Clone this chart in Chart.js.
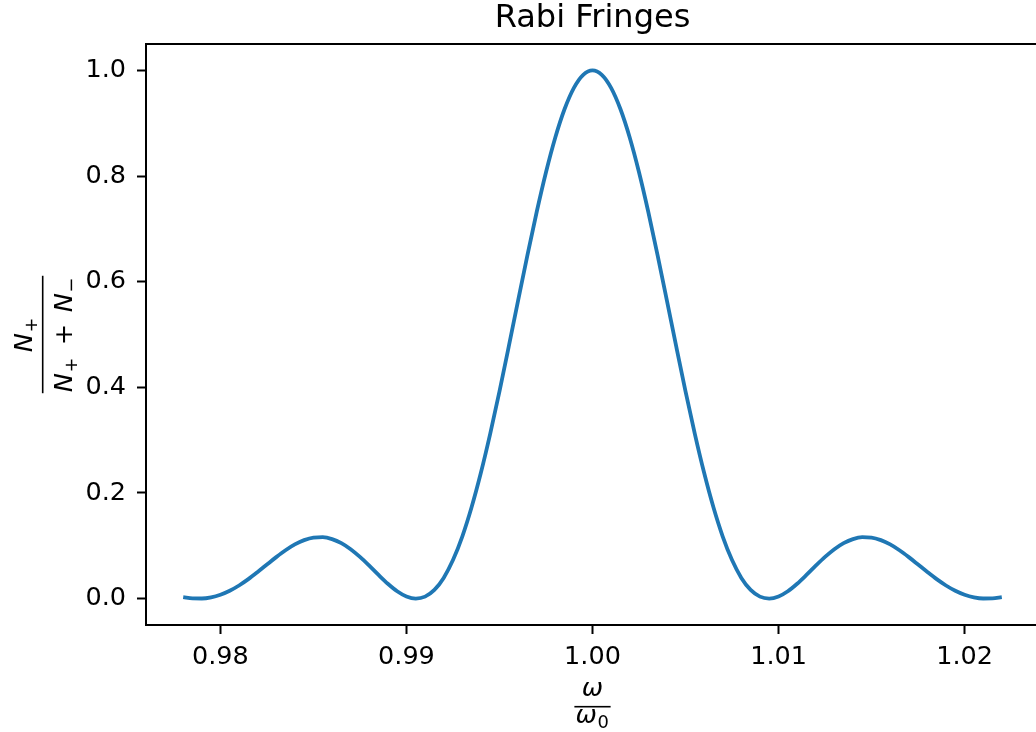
<!DOCTYPE html>
<html>
<head>
<meta charset="utf-8">
<title>Rabi Fringes</title>
<script src="https://cdn.jsdelivr.net/npm/chart.js@4.4.1/dist/chart.umd.min.js"></script>
<style>
  html, body { margin: 0; padding: 0; overflow: hidden; background: #ffffff; }
  #wrap { position: relative; width: 1040px; height: 732px; }
</style>
</head>
<body>
<div id="wrap"><canvas id="chart" width="1040" height="732"></canvas></div>
<script>
// Drive frequency relative to resonance (omega / omega_0)
const omegaRatio = [
  0.9780, 0.9785, 0.9790, 0.9795, 0.9800, 0.9805, 0.9810, 0.9815, 0.9820, 0.9825,
  0.9830, 0.9835, 0.9840, 0.9845, 0.9850, 0.9855, 0.9860, 0.9865, 0.9870, 0.9875,
  0.9880, 0.9885, 0.9890, 0.9895, 0.9900, 0.9905, 0.9910, 0.9915, 0.9920, 0.9925,
  0.9930, 0.9935, 0.9940, 0.9945, 0.9950, 0.9955, 0.9960, 0.9965, 0.9970, 0.9975,
  0.9980, 0.9985, 0.9990, 0.9995, 1.0000, 1.0005, 1.0010, 1.0015, 1.0020, 1.0025,
  1.0030, 1.0035, 1.0040, 1.0045, 1.0050, 1.0055, 1.0060, 1.0065, 1.0070, 1.0075,
  1.0080, 1.0085, 1.0090, 1.0095, 1.0100, 1.0105, 1.0110, 1.0115, 1.0120, 1.0125,
  1.0130, 1.0135, 1.0140, 1.0145, 1.0150, 1.0155, 1.0160, 1.0165, 1.0170, 1.0175,
  1.0180, 1.0185, 1.0190, 1.0195, 1.0200, 1.0205, 1.0210, 1.0215, 1.0220
];

// Excited-state fraction N+ / (N+ + N-)
const excitedFraction = [
  0.0029, 0.0005, 0.0002, 0.0024, 0.0073, 0.0148, 0.0248, 0.0368, 0.0503, 0.0645,
  0.0785, 0.0915, 0.1025, 0.1107, 0.1155, 0.1162, 0.1127, 0.1050, 0.0935, 0.0789,
  0.0623, 0.0448, 0.0281, 0.0139, 0.0040, 0.0000, 0.0037, 0.0164, 0.0392, 0.0729,
  0.1175, 0.1729, 0.2381, 0.3119, 0.3924, 0.4773, 0.5641, 0.6499, 0.7319, 0.8072,
  0.8730, 0.9269, 0.9670, 0.9917, 1.0000, 0.9917, 0.9670, 0.9269, 0.8730, 0.8072,
  0.7319, 0.6499, 0.5641, 0.4773, 0.3924, 0.3119, 0.2381, 0.1729, 0.1175, 0.0729,
  0.0392, 0.0164, 0.0037, 0.0000, 0.0040, 0.0139, 0.0281, 0.0448, 0.0623, 0.0789,
  0.0935, 0.1050, 0.1127, 0.1162, 0.1155, 0.1107, 0.1025, 0.0915, 0.0785, 0.0645,
  0.0503, 0.0368, 0.0248, 0.0148, 0.0073, 0.0024, 0.0002, 0.0005, 0.0029
];

const xTickValues = [0.98, 0.99, 1.00, 1.01, 1.02];
const yTickValues = [0.0, 0.2, 0.4, 0.6, 0.8, 1.0];
const titleText = 'Rabi Fringes';

const FONT = '"DejaVu Sans", "Liberation Sans", sans-serif';
const TICK_SIZE = 25.5;
const SUB_SIZE = 17.9;
const OP_PAD = 0.45 * TICK_SIZE;
const SUB_PAD = 1.5;

// Math-style label runs: [text, kind]
const xLabelNum = [['ω', 'it']];
const xLabelDen = [['ω', 'it'], ['0', 'sub']];
const yLabelNum = [['N', 'it'], ['+', 'sub']];
const yLabelDen = [['N', 'it'], ['+', 'sub'], ['+', 'op'], ['N', 'it'], ['−', 'sub']];

function runFont(kind) {
  const size = kind === 'sub' ? SUB_SIZE : TICK_SIZE;
  const style = kind === 'it' ? 'italic ' : '';
  return style + size + 'px ' + FONT;
}

function runAdvance(ctx, t, k) {
  ctx.font = runFont(k);
  let w = ctx.measureText(t).width;
  if (k === 'op') w += 2 * OP_PAD;
  if (k === 'sub') w += SUB_PAD;
  return w;
}

function runsWidth(ctx, runs) {
  let w = 0;
  for (const [t, k] of runs) w += runAdvance(ctx, t, k);
  return w;
}

function drawRuns(ctx, runs, x, baseline) {
  for (const [t, k] of runs) {
    const adv = runAdvance(ctx, t, k);
    ctx.font = runFont(k);
    const dx = k === 'op' ? OP_PAD : (k === 'sub' ? SUB_PAD / 2 : 0);
    ctx.fillText(t, x + dx, k === 'sub' ? baseline + 5 : baseline);
    x += adv;
  }
}

// Stacked fraction centred on (cx, barY)
function drawFraction(ctx, cx, barY, num, den, numBase, denBase) {
  const wn = runsWidth(ctx, num);
  const wd = runsWidth(ctx, den);
  const bw = Math.max(wn, wd) + 2;
  ctx.textAlign = 'left';
  ctx.textBaseline = 'alphabetic';
  drawRuns(ctx, num, cx - wn / 2, barY + numBase);
  drawRuns(ctx, den, cx - wd / 2, barY + denBase);
  ctx.fillRect(cx - bw / 2, barY - 0.8, bw, 1.6);
}

const decorations = {
  id: 'decorations',
  afterDraw(chart) {
    const { ctx, chartArea: a } = chart;
    ctx.save();
    // top frame line
    ctx.strokeStyle = '#000000';
    ctx.lineWidth = 2;
    ctx.beginPath();
    ctx.moveTo(a.left - 1, a.top);
    ctx.lineTo(a.right, a.top);
    ctx.stroke();

    ctx.fillStyle = '#000000';
    // title
    ctx.font = '32px ' + FONT;
    ctx.textAlign = 'center';
    ctx.textBaseline = 'alphabetic';
    ctx.fillText(titleText, (a.left + a.right) / 2, 27);

    // x-axis label: omega / omega_0
    drawFraction(ctx, (a.left + a.right) / 2, 706.7, xLabelNum, xLabelDen, -10.7, 16.3);

    // y-axis label: N+ / (N+ + N-), rotated
    ctx.save();
    ctx.translate(42.7, (a.top + a.bottom) / 2);
    ctx.rotate(-Math.PI / 2);
    drawFraction(ctx, 0, 0, yLabelNum, yLabelDen, -10.7, 29.3);
    ctx.restore();

    ctx.restore();
  }
};

const axisGrid = {
  drawOnChartArea: false,
  drawTicks: true,
  tickLength: 9,
  tickWidth: 2,
  tickColor: '#000000'
};
const axisBorder = { display: true, color: '#000000', width: 2 };

new Chart(document.getElementById('chart'), {
  type: 'line',
  data: {
    datasets: [{
      data: omegaRatio.map((x, i) => ({ x: x, y: excitedFraction[i] })),
      borderColor: '#1f77b4',
      borderWidth: 3.8,
      pointRadius: 0,
      fill: false,
      cubicInterpolationMode: 'monotone',
      borderCapStyle: 'butt'
    }]
  },
  options: {
    responsive: false,
    devicePixelRatio: 1,
    animation: false,
    layout: { padding: { top: 44, left: 0, right: 1, bottom: 0 } },
    plugins: {
      legend: { display: false },
      title: { display: false },
      tooltip: { enabled: false }
    },
    scales: {
      x: {
        type: 'linear',
        min: 0.976,
        max: 1.024,
        afterFit(scale) { scale.height = 107; },
        afterBuildTicks(scale) { scale.ticks = xTickValues.map(v => ({ value: v })); },
        ticks: {
          callback: v => Number(v).toFixed(2),
          font: { family: FONT, size: TICK_SIZE },
          color: '#000000',
          padding: 8,
          maxRotation: 0,
          autoSkip: false
        },
        grid: axisGrid,
        border: axisBorder
      },
      y: {
        type: 'linear',
        min: -0.05,
        max: 1.05,
        afterFit(scale) { scale.width = 146; },
        afterBuildTicks(scale) { scale.ticks = yTickValues.map(v => ({ value: v })); },
        ticks: {
          callback: v => Number(v).toFixed(1),
          font: { family: FONT, size: TICK_SIZE },
          color: '#000000',
          padding: 11,
          autoSkip: false
        },
        grid: axisGrid,
        border: axisBorder
      }
    }
  },
  plugins: [decorations]
});
</script>
</body>
</html>
